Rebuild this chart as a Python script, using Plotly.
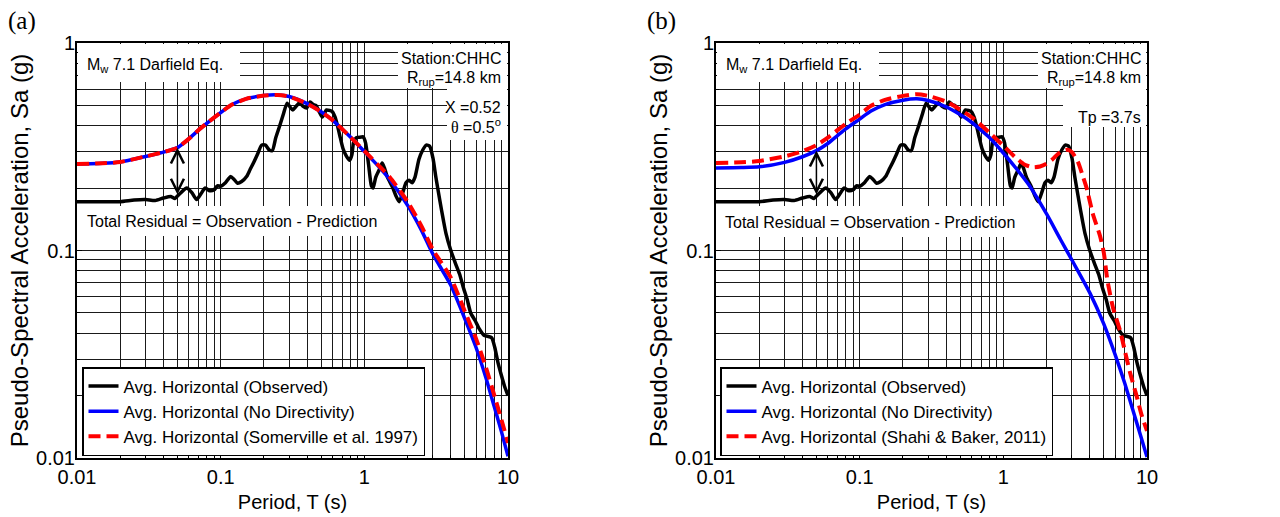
import numpy as np
import plotly.graph_objects as go

# observed average horizontal spectrum (same record in both panels)
obs_T = [0.01, 0.015, 0.02, 0.025, 0.03, 0.035, 0.04, 0.045, 0.048, 0.05,
         0.055, 0.058, 0.063, 0.068, 0.073, 0.078, 0.084, 0.09, 0.095, 0.1,
         0.108, 0.117, 0.124, 0.131, 0.14, 0.152, 0.16, 0.169, 0.18, 0.193,
         0.205, 0.218, 0.229, 0.242, 0.256, 0.272, 0.29, 0.305, 0.318, 0.335,
         0.354, 0.375, 0.396, 0.42, 0.44, 0.46, 0.49, 0.51, 0.53, 0.545,
         0.6, 0.625, 0.65, 0.68, 0.71, 0.75, 0.79, 0.82, 0.84, 0.88,
         0.95, 0.98, 1.02, 1.07, 1.12, 1.15, 1.2, 1.27, 1.33, 1.38,
         1.45, 1.57, 1.65, 1.75, 1.86, 1.95, 2.05, 2.15, 2.25, 2.4,
         2.55, 2.7, 2.85, 3.0, 3.15, 3.35, 3.55, 3.7, 4.0, 4.3,
         4.6, 4.9, 5.2, 5.5, 5.9, 6.3, 6.8, 7.2, 7.7, 8.1,
         8.5, 9.0, 9.5, 10.0]
obs_Sa = [0.172, 0.172, 0.172, 0.175, 0.176, 0.174, 0.179, 0.182, 0.178, 0.183,
          0.195, 0.200, 0.190, 0.176, 0.188, 0.200, 0.194, 0.196, 0.205, 0.204,
          0.212, 0.227, 0.220, 0.211, 0.215, 0.228, 0.245, 0.264, 0.290, 0.322,
          0.322, 0.305, 0.303, 0.350, 0.394, 0.450, 0.513, 0.490, 0.476, 0.495,
          0.515, 0.495, 0.486, 0.520, 0.505, 0.500, 0.460, 0.440, 0.460, 0.476,
          0.466, 0.440, 0.400, 0.350, 0.310, 0.285, 0.272, 0.290, 0.330, 0.350,
          0.352, 0.353, 0.330, 0.260, 0.205, 0.200, 0.225, 0.245, 0.264, 0.250,
          0.225, 0.202, 0.185, 0.172, 0.192, 0.212, 0.218, 0.212, 0.225, 0.275,
          0.305, 0.322, 0.318, 0.280, 0.225, 0.175, 0.140, 0.121, 0.100, 0.087,
          0.077, 0.066, 0.058, 0.050, 0.046, 0.042, 0.039, 0.0386, 0.038, 0.034,
          0.029, 0.025, 0.022, 0.020]

# model periods
model_T = [0.01, 0.015, 0.02, 0.03, 0.04, 0.05, 0.06, 0.07, 0.08, 0.1,
           0.12, 0.15, 0.2, 0.25, 0.3, 0.4, 0.5, 0.6, 0.7, 0.8,
           1.0, 1.25, 1.5, 2.0, 2.5, 3.0, 4.0, 5.0, 6.0, 7.0,
           8.0, 9.0, 10.0]

# panel (a): no directivity and Somerville et al. (1997)
nodir_a_Sa = [0.261, 0.263, 0.267, 0.284, 0.298, 0.313, 0.345, 0.380, 0.410, 0.462,
              0.505, 0.538, 0.558, 0.562, 0.552, 0.510, 0.466, 0.425, 0.385, 0.352,
              0.300, 0.255, 0.220, 0.165, 0.125, 0.096, 0.068, 0.047, 0.034, 0.0245,
              0.0178, 0.0134, 0.0102]
somer_Sa = [0.261, 0.263, 0.267, 0.284, 0.298, 0.313, 0.345, 0.380, 0.410, 0.462,
            0.505, 0.538, 0.558, 0.562, 0.552, 0.510, 0.466, 0.425, 0.385, 0.352,
            0.302, 0.258, 0.226, 0.172, 0.131, 0.101, 0.074, 0.051, 0.0375, 0.0275,
            0.0202, 0.0153, 0.0118]

# panel (b): no directivity and Shahi & Baker (2011)
nodir_b_Sa = [0.250, 0.251, 0.253, 0.266, 0.283, 0.303, 0.328, 0.358, 0.386, 0.430,
              0.470, 0.505, 0.530, 0.538, 0.528, 0.492, 0.452, 0.415, 0.380, 0.350,
              0.295, 0.245, 0.208, 0.150, 0.113, 0.090, 0.0625, 0.0443, 0.0315, 0.0229,
              0.0169, 0.0129, 0.0101]
shahi_T = [0.01, 0.015, 0.02, 0.03, 0.04, 0.05, 0.06, 0.07, 0.08, 0.1,
           0.12, 0.15, 0.2, 0.25, 0.3, 0.4, 0.5, 0.6, 0.7, 0.8,
           1.0, 1.2, 1.4, 1.6, 1.8, 2.0, 2.2, 2.4, 2.6, 2.8,
           3.0, 3.3, 3.6, 3.8, 4.2, 4.7, 5.0, 5.3, 5.8, 6.5,
           7.0, 7.6, 8.5, 9.2, 10.0]
shahi_Sa = [0.264, 0.266, 0.270, 0.284, 0.301, 0.322, 0.350, 0.380, 0.408, 0.452,
            0.498, 0.532, 0.556, 0.566, 0.556, 0.522, 0.478, 0.440, 0.402, 0.370,
            0.320, 0.283, 0.260, 0.252, 0.254, 0.262, 0.275, 0.292, 0.303, 0.306,
            0.298, 0.268, 0.225, 0.200, 0.150, 0.118, 0.098, 0.072, 0.053, 0.041,
            0.033, 0.026, 0.0197, 0.016, 0.0135]

x_tickvals = [0.01, 0.1, 1, 10]
x_ticktext = ['0.01', '0.1', '1', '10']
y_tickvals = [0.01, 0.1, 1]
y_ticktext = ['0.01', '0.1', '1']
residual_T = 0.05

SANS = 'Liberation Sans, Arial, sans-serif'
SERIF = 'Liberation Serif, Times New Roman, serif'

W, H = 1280, 517
PLOT_TOP, PLOT_BOT = 43, 458
PANEL_LEFT = {'a': 77, 'b': 716}
PW, PH = 431, PLOT_BOT - PLOT_TOP

fig = go.Figure()

def add_line(x, y, name, color, xa, ya, legend, dash='solid', width=3.5):
    fig.add_trace(go.Scatter(x=x, y=y, mode='lines', name=name,
                             line=dict(color=color, width=width, dash=dash, shape='spline', smoothing=0.6),
                             xaxis=xa, yaxis=ya, legend=legend))

add_line(obs_T, obs_Sa, 'Avg. Horizontal (Observed)', 'black', 'x', 'y', 'legend')
add_line(model_T, nodir_a_Sa, 'Avg. Horizontal (No Directivity)', '#0000ff', 'x', 'y', 'legend')
add_line(model_T, somer_Sa, 'Avg. Horizontal (Somerville et al. 1997)', '#ff0000', 'x', 'y', 'legend',
         dash='12px,6px', width=4)
add_line(obs_T, obs_Sa, 'Avg. Horizontal (Observed)', 'black', 'x2', 'y2', 'legend2')
add_line(model_T, nodir_b_Sa, 'Avg. Horizontal (No Directivity)', '#0000ff', 'x2', 'y2', 'legend2')
add_line(shahi_T, shahi_Sa, 'Avg. Horizontal (Shahi & Baker, 2011)', '#ff0000', 'x2', 'y2', 'legend2',
         dash='12px,6px', width=4)

minor_x = [m * 10.0 ** e for e in (-2, -1, 0) for m in range(2, 10)]
minor_y = [m * 10.0 ** e for e in (-2, -1) for m in range(2, 10)]

def xaxis(left, anchor):
    return dict(type='log', range=[-2, 1], domain=[left / W, (left + PW) / W], anchor=anchor,
                tickvals=x_tickvals, ticktext=x_ticktext, ticks='inside', ticklen=5,
                tickcolor='black', tickfont=dict(family=SANS, size=20, color='black'),
                ticklabelstandoff=0,
                showline=True, linecolor='black', linewidth=2, mirror=True,
                showgrid=True, gridcolor='#1a1a1a', gridwidth=1, zeroline=False,
                minor=dict(tickvals=minor_x, showgrid=True, gridcolor='#1a1a1a', gridwidth=1,
                           ticks='inside', ticklen=3, tickcolor='black'),
                title=dict(text='Period, T (s)', font=dict(family=SANS, size=20, color='black'),
                           standoff=8),
                automargin=False)

def yaxis(anchor):
    return dict(type='log', range=[-2, 0], domain=[1 - PLOT_BOT / H, 1 - PLOT_TOP / H], anchor=anchor,
                tickvals=y_tickvals, ticktext=y_ticktext, ticks='inside', ticklen=5,
                tickcolor='black', tickfont=dict(family=SANS, size=20, color='black'),
                ticklabelstandoff=-4,
                showline=True, linecolor='black', linewidth=2, mirror=True,
                showgrid=True, gridcolor='#1a1a1a', gridwidth=1, zeroline=False,
                minor=dict(tickvals=minor_y, showgrid=True, gridcolor='#1a1a1a', gridwidth=1,
                           ticks='inside', ticklen=3, tickcolor='black'),
                title=dict(text='Pseudo-Spectral Acceleration, Sa (g)',
                           font=dict(family=SANS, size=24, color='black'), standoff=1),
                automargin=False)

# white boxes behind the text, given in pixels
def white_box(x0, x1, y0, y1):
    return dict(type='rect', xref='paper', yref='paper',
                x0=x0 / W, x1=x1 / W, y0=1 - y1 / H, y1=1 - y0 / H,
                fillcolor='white', line=dict(width=0), layer='above')

shapes = [
    white_box(78, 240, 44, 82), white_box(398, 507, 44, 88),
    white_box(447, 507, 88, 140), white_box(80, 383, 206, 236),
    white_box(717, 879, 44, 82), white_box(1038, 1146, 44, 88),
    white_box(1063, 1146, 88, 127), white_box(718, 1020, 206, 237),
]

def note(text, px, py, anchor='left', size=16, family=SANS):
    return dict(text=text, xref='paper', yref='paper', x=px / W, y=1 - py / H,
                xanchor=anchor, yanchor='middle', showarrow=False,
                font=dict(family=family, size=size, color='black'))

theta = '<span style="font-family:Liberation Serif">θ</span> =0.5<sup>o</sup>'
annotations = [
    note('M<sub>w</sub> 7.1 Darfield Eq.', 85, 66),
    note('Station:CHHC', 503, 58, 'right'),
    note('R<sub>rup</sub>=14.8 km', 503, 79, 'right'),
    note('X =0.52', 503, 107, 'right'),
    note(theta, 503, 126, 'right'),
    note('Total Residual = Observation - Prediction', 85, 221),
    note('M<sub>w</sub> 7.1 Darfield Eq.', 724, 66),
    note('Station:CHHC', 1143, 58, 'right'),
    note('R<sub>rup</sub>=14.8 km', 1143, 79, 'right'),
    note('Tp =3.7s', 1143, 117, 'right'),
    note('Total Residual = Observation - Prediction', 723, 223),
    note('(a)', 6, 21, size=25, family=SERIF),
    note('(b)', 645, 21, size=25, family=SERIF),
]

# residual arrows between observation and prediction at T = 0.05 s
def interp_log(T, xs, ys):
    return np.interp(np.log10(T), np.log10(xs), np.log10(ys))

lt = np.log10(residual_T)
for s, pred in (('', nodir_a_Sa), ('2', nodir_b_Sa)):
    y_obs = interp_log(residual_T, obs_T, obs_Sa)
    y_pred = interp_log(residual_T, model_T, pred)
    annotations.append(dict(x=lt, y=y_pred, ax=lt, ay=y_obs, xref=f'x{s}', yref=f'y{s}',
                            axref=f'x{s}', ayref=f'y{s}', text='', showarrow=True,
                            arrowhead=5, startarrowhead=5, arrowside='end+start',
                            arrowsize=1.7, startarrowsize=1.7, arrowwidth=1.5, arrowcolor='black',
                            standoff=0, startstandoff=0))

legend_style = dict(bgcolor='white', bordercolor='black', borderwidth=1.5,
                    font=dict(family=SANS, size=17, color='black'),
                    xanchor='left', yanchor='top', y=1 - 367 / H, tracegroupgap=0,
                    itemwidth=30)

fig.update_layout(
    width=W, height=H, margin=dict(l=0, r=0, t=0, b=0),
    paper_bgcolor='white', plot_bgcolor='white',
    xaxis=xaxis(PANEL_LEFT['a'], 'y'), yaxis=yaxis('x'),
    xaxis2=xaxis(PANEL_LEFT['b'], 'y2'), yaxis2=yaxis('x2'),
    legend=dict(legend_style, x=82 / W),
    legend2=dict(legend_style, x=720 / W),
    shapes=shapes, annotations=annotations, showlegend=True,
)

# drop the browser's default page margin so the figure sits at the top-left corner
fig.write_html('out.html', config={'displayModeBar': False},
               post_script="document.body.style.margin='0';")
